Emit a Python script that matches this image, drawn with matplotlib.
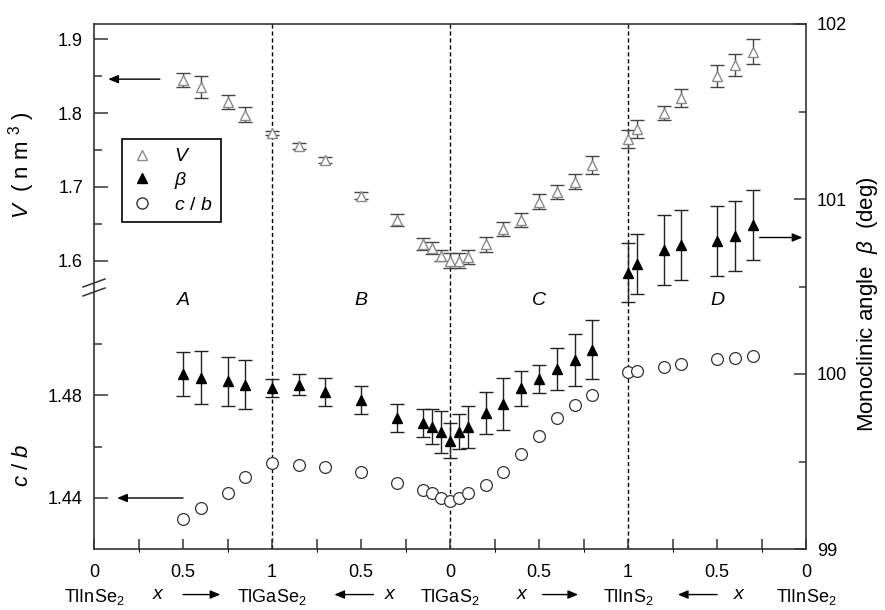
import matplotlib
matplotlib.use("Agg")
import matplotlib.pyplot as plt
from matplotlib.lines import Line2D
from matplotlib.ticker import MultipleLocator, FixedLocator
from matplotlib.transforms import blended_transform_factory

plt.rcParams['font.family'] = ['Liberation Sans', 'DejaVu Sans']
plt.rcParams['mathtext.fontset'] = 'custom'
plt.rcParams['mathtext.rm'] = 'Liberation Sans'
plt.rcParams['mathtext.it'] = 'Liberation Sans:italic'

# ---------------- data ----------------
pos = [0.5, 0.6, 0.75, 0.85, 1.0, 1.15, 1.3, 1.5, 1.7, 1.85, 1.9, 1.95, 2.0, 2.05,
       2.1, 2.2, 2.3, 2.4, 2.5, 2.6, 2.7, 2.8, 3.0, 3.05, 3.2, 3.3, 3.5, 3.6, 3.7]

V = [1.845, 1.835, 1.815, 1.798, 1.773, 1.755, 1.736, 1.688, 1.655, 1.623, 1.617,
     1.607, 1.600, 1.600, 1.605, 1.622, 1.643, 1.655, 1.680, 1.693, 1.707, 1.730,
     1.765, 1.778, 1.800, 1.820, 1.850, 1.865, 1.883]
V_err = [0.010, 0.015, 0.010, 0.010, 0.003, 0.004, 0.004, 0.005, 0.008, 0.008, 0.008,
         0.008, 0.010, 0.010, 0.010, 0.010, 0.010, 0.010, 0.010, 0.010, 0.010, 0.012,
         0.012, 0.012, 0.010, 0.012, 0.015, 0.015, 0.017]

beta = [100.00, 99.98, 99.96, 99.94, 99.92, 99.94, 99.90, 99.85, 99.75, 99.72, 99.70,
        99.67, 99.62, 99.67, 99.70, 99.78, 99.83, 99.92, 99.97, 100.03, 100.08, 100.14,
        100.58, 100.63, 100.71, 100.74, 100.76, 100.79, 100.85]
beta_err = [0.125, 0.15, 0.14, 0.14, 0.05, 0.06, 0.08, 0.08, 0.08, 0.08, 0.10,
            0.12, 0.10, 0.10, 0.12, 0.12, 0.15, 0.10, 0.08, 0.12, 0.15, 0.17,
            0.17, 0.17, 0.20, 0.20, 0.20, 0.20, 0.20]

cb = [1.432, 1.436, 1.442, 1.448, 1.4535, 1.453, 1.452, 1.450, 1.446, 1.443, 1.442,
      1.440, 1.439, 1.440, 1.442, 1.445, 1.450, 1.457, 1.464, 1.471, 1.476, 1.480,
      1.489, 1.4895, 1.491, 1.492, 1.494, 1.4945, 1.495]

xtick_pos = [0, 0.5, 1, 1.5, 2, 2.5, 3, 3.5, 4]
xtick_labels = ['0', '0.5', '1', '0.5', '0', '0.5', '1', '0.5', '0']
compounds = ['TlInSe$_2$', 'TlGaSe$_2$', 'TlGaS$_2$', 'TlInS$_2$', 'TlInSe$_2$']
compound_pos = [0, 1, 2, 3, 4]
region_names = ['A', 'B', 'C', 'D']
region_pos = [0.5, 1.5, 2.5, 3.5]
x_hints = [(0.36, 0.50, 0.71), (1.66, 1.57, 1.35), (2.40, 2.52, 2.72), (3.62, 3.50, 3.28)]

# ---------------- layout ----------------
W, H = 885, 610
fig = plt.figure(figsize=(W / 100, H / 100), dpi=100)
L, R, T, B = 94, 806, 24, 549
rect = [L / W, 1 - B / H, (R - L) / W, (B - T) / H]

def ylim_from(v1, p1, v2, p2):
    s = (v1 - v2) / (p2 - p1)
    top = v1 + (p1 - T) * s
    bot = v1 - (B - p1) * s
    return bot, top

axB = fig.add_axes(rect)
axV = fig.add_axes(rect, sharex=axB)
axC = fig.add_axes(rect, sharex=axB)
for a in (axV, axC):
    a.patch.set_visible(False)

axB.set_xlim(0, 4)
axB.set_ylim(99, 102)
axV.set_ylim(*ylim_from(1.9, 39.3, 1.6, 260.7))
axC.set_ylim(*ylim_from(1.48, 395, 1.44, 498))

spine_c = '#333333'
for a in (axB, axV, axC):
    for s in a.spines.values():
        s.set_visible(False)
for a, sp in ((axB, 'right'), (axB, 'top'), (axB, 'bottom'), (axC, 'left')):
    a.spines[sp].set_visible(True)
    a.spines[sp].set_color(spine_c)
    a.spines[sp].set_linewidth(1.2)

axB.yaxis.tick_right()
axB.yaxis.set_major_locator(MultipleLocator(1))
axB.yaxis.set_minor_locator(MultipleLocator(0.5))
axB.tick_params(axis='y', which='major', direction='in', length=9, width=1.1,
                color=spine_c, labelsize=13, pad=8)
axB.tick_params(axis='y', which='minor', direction='in', length=5, width=1.1, color=spine_c)

axB.xaxis.set_major_locator(FixedLocator(xtick_pos))
axB.set_xticklabels(xtick_labels)
axB.xaxis.set_minor_locator(MultipleLocator(0.25))
axB.tick_params(axis='x', which='major', direction='in', length=7, width=1.1,
                color=spine_c, labelsize=13, pad=11)
axB.tick_params(axis='x', which='minor', direction='in', length=7, width=1.1, color=spine_c)

axV.yaxis.set_major_locator(FixedLocator([1.6, 1.7, 1.8, 1.9]))
axV.yaxis.set_minor_locator(FixedLocator([1.65, 1.75, 1.85]))
axV.tick_params(axis='y', which='major', direction='in', length=10, width=1.1,
                color=spine_c, labelsize=13, pad=8)
axV.tick_params(axis='y', which='minor', direction='in', length=6, width=1.1, color=spine_c)
axV.tick_params(axis='x', bottom=False, labelbottom=False)

axC.yaxis.set_major_locator(FixedLocator([1.44, 1.48]))
axC.yaxis.set_minor_locator(FixedLocator([1.46, 1.50]))
axC.tick_params(axis='y', which='major', direction='in', length=10, width=1.1,
                color=spine_c, labelsize=13, pad=8)
axC.tick_params(axis='y', which='minor', direction='in', length=6, width=1.1, color=spine_c)
axC.tick_params(axis='x', bottom=False, labelbottom=False)

for xv in (1, 2, 3):
    axB.axvline(xv, color='black', lw=1.0, ls=(0, (3, 2)), zorder=1)

# ---------------- data marks ----------------
axV.errorbar(pos, V, yerr=V_err, fmt='^', ms=6.5, mfc='white', mec='#8a8a8a', mew=1.0,
             ecolor='#444444', elinewidth=1.0, capsize=5, capthick=1.0, zorder=3)
axB.errorbar(pos, beta, yerr=beta_err, fmt='^', ms=6.5, mfc='black', mec='black',
             ecolor='#222222', elinewidth=1.0, capsize=5, capthick=1.0, zorder=3)
axC.plot(pos, cb, 'o', ms=8.5, mfc='white', mec='#333333', mew=0.9, zorder=3)

# ---------------- arrows ----------------
ap = dict(arrowstyle='-|>,head_length=0.6,head_width=0.25', color='black', lw=1.0,
          shrinkA=0, shrinkB=0)
axV.annotate('', xy=(0.08, 1.846), xytext=(0.37, 1.846), arrowprops=ap)
axC.annotate('', xy=(0.13, 1.44), xytext=(0.5, 1.44), arrowprops=ap)
axB.annotate('', xy=(3.98, 100.78), xytext=(3.74, 100.78), arrowprops=ap)

for name, xp in zip(region_names, region_pos):
    axB.text(xp, 100.42, name, style='italic', fontsize=14, ha='center', va='center')

trow = blended_transform_factory(axB.transData, fig.transFigure)
yrow = 1 - 597 / H
for name, xp in zip(compounds, compound_pos):
    axB.text(xp, yrow, name, transform=trow, ha='center', va='center', fontsize=13)
for xl, xa0, xa1 in x_hints:
    axB.text(xl, yrow + 0.004, 'x', style='italic', transform=trow, ha='center',
             va='center', fontsize=14)
    axB.annotate('', xy=(xa1, yrow + 0.004), xycoords=trow, xytext=(xa0, yrow + 0.004),
                 textcoords=trow, arrowprops=ap, annotation_clip=False)

# ---------------- axis labels ----------------
fig.text(22 / W, 1 - 165 / H, r'$V$  ( n m $^3$ )', rotation=90, ha='center', va='center', fontsize=16)
fig.text(22 / W, 1 - 465 / H, r'$c$ / $b$', rotation=90, ha='center', va='center', fontsize=16)
fig.text(868 / W, 1 - 304 / H, r'Monoclinic angle  $\beta$  (deg)', rotation=90,
         ha='center', va='center', fontsize=16)

for dy in (0, 9):
    fig.add_artist(Line2D([83 / W, 105 / W], [1 - (287 + dy) / H, 1 - (279 + dy) / H],
                          color=spine_c, lw=1.1))

# ---------------- legend ----------------
handles = [
    Line2D([], [], ls='none', marker='^', ms=6.5, mfc='white', mec='#8a8a8a'),
    Line2D([], [], ls='none', marker='^', ms=6.5, mfc='black', mec='black'),
    Line2D([], [], ls='none', marker='o', ms=8, mfc='white', mec='#333333'),
]
leg = axB.legend(handles, ['$V$', r'$\beta$', '$c$ / $b$'], loc='upper left',
                 bbox_to_anchor=(122 / W, 1 - 139 / H), bbox_transform=fig.transFigure,
                 borderaxespad=0, fancybox=False, framealpha=1, edgecolor='black',
                 fontsize=14, handlelength=1.2, handletextpad=1.0, labelspacing=0.25,
                 borderpad=0.45)
leg.get_frame().set_linewidth(1.2)
leg.set_zorder(10)

fig.savefig('out.png', dpi=100)
